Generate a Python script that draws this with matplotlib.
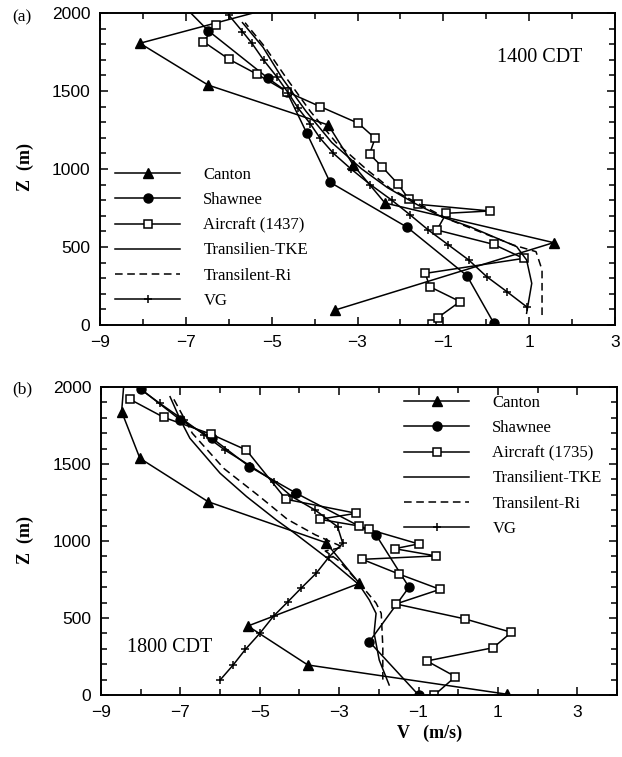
import matplotlib
matplotlib.use('Agg')
import matplotlib.pyplot as plt
from matplotlib.ticker import MultipleLocator

# ---------------- data: panel (a) 1400 CDT ----------------
canton_a_v = [-3.52, 1.57, -2.36, -3.10, -3.68, -6.48, -8.07, -4.75]
canton_a_z = [96, 528, 782, 1026, 1282, 1538, 1806, 2050]

shawnee_a_v = [0.18, -0.45, -1.84, -3.64, -4.18, -4.65, -5.08, -6.48, -7.1]
shawnee_a_z = [10, 316, 626, 915, 1229, 1496, 1581, 1887, 2060]

aircraft_a_v = [-1.27, -1.13, -0.61, -1.32, -1.42, 0.87, 0.17, -1.15, -0.93, 0.09,
                -1.60, -1.81, -2.05, -2.43, -2.72, -2.59, -2.98, -3.87, -4.65,
                -5.35, -5.99, -6.59, -6.30]
aircraft_a_z = [6, 47, 150, 246, 331, 427, 517, 609, 716, 731,
                774, 808, 902, 1015, 1096, 1197, 1293, 1400, 1496,
                1609, 1703, 1816, 1923]

tke_a_v = [0.94, 1.06, 0.94, 0.71, -0.38, -1.04, -1.6, -2.3, -2.9, -3.6, -4.2, -4.75, -5.2, -5.68]
tke_a_z = [75, 267, 417, 502, 630, 694, 770, 880, 1000, 1170, 1370, 1580, 1780, 1938]

ri_a_v = [1.30, 1.30, 1.16, 0.63, -0.84, -1.6, -2.24, -2.8, -3.5, -4.1, -4.65, -5.15, -5.62]
ri_a_z = [64, 353, 470, 513, 673, 780, 876, 1000, 1170, 1370, 1580, 1780, 1938]

vg_a_v = [0.94, 0.48, 0.01, -0.41, -0.88, -1.35, -1.77, -2.2, -2.7, -3.15, -3.56, -3.87,
          -4.1, -4.38, -4.62, -4.88, -5.19, -5.46, -5.68, -6.0]
vg_a_z = [117, 214, 310, 417, 513, 609, 705, 800, 900, 1000, 1100, 1197,
          1290, 1389, 1490, 1591, 1699, 1806, 1881, 1987]

# ---------------- data: panel (b) 1800 CDT ----------------
canton_b_v = [1.23, -3.79, -5.30, -2.49, -3.33, -6.30, -8.02, -8.48, -8.40]
canton_b_z = [5, 195, 448, 725, 989, 1255, 1537, 1840, 2100]

shawnee_b_v = [-1.00, -2.24, -1.24, -2.07, -4.08, -5.26, -6.20, -7.00, -8.00]
shawnee_b_z = [0, 346, 700, 1039, 1310, 1483, 1667, 1786, 1987]

aircraft_b_v = [-0.60, -0.07, -0.79, 0.88, 1.34, 0.17, -1.57, -0.46, -1.50, -2.42,
                -0.56, -1.60, -1.00, -2.26, -2.49, -3.49, -2.57, -4.34, -5.34,
                -6.24, -7.42, -8.27]
aircraft_b_z = [0, 119, 221, 307, 407, 494, 591, 686, 786, 881,
                903, 950, 981, 1076, 1097, 1141, 1180, 1271, 1591,
                1695, 1803, 1920]

tke_b_v = [-1.74, -1.99, -2.12, -2.07, -2.24, -2.49, -3.24, -4.17, -4.58, -5.33, -6.0, -6.76, -7.0, -7.26]
tke_b_z = [65, 227, 402, 530, 617, 714, 877, 1060, 1136, 1288, 1440, 1667, 1786, 1937]

ri_b_v = [-1.9, -1.9, -1.94, -2.07, -2.45, -3.0, -3.35, -2.9, -3.6, -4.3, -5.0, -5.9, -6.7, -7.2]
ri_b_z = [100, 314, 530, 597, 714, 870, 935, 960, 1040, 1140, 1288, 1470, 1700, 1937]

vg_b_v = [-6.0, -5.67, -5.36, -5.0, -4.65, -4.29, -3.96, -3.58, -3.25, -2.91, -3.04,
          -3.6, -4.2, -4.63, -5.25, -5.88, -6.4, -6.92, -7.52, -8.0]
vg_b_z = [97, 195, 297, 400, 513, 606, 693, 790, 898, 985, 1093,
          1200, 1290, 1385, 1490, 1591, 1690, 1786, 1894, 1985]

labels_a = ['Canton', 'Shawnee', 'Aircraft (1437)', 'Transilien-TKE', 'Transilent-Ri', 'VG']
labels_b = ['Canton', 'Shawnee', 'Aircraft (1735)', 'Transilient-TKE', 'Transilent-Ri', 'VG']

# ---------------- figure ----------------
W, H = 622, 757
fig = plt.figure(figsize=(W / 100, H / 100), dpi=100)

def rect(l, r, t, b):
    return [l / W, 1 - b / H, (r - l) / W, (b - t) / H]

SERIF = ['Liberation Serif', 'DejaVu Serif']
SANS = ['Liberation Sans', 'DejaVu Sans']
LW = 1.1

def draw(ax, d, xmax):
    cv, cz, sv, sz, av, az, tv, tz, rv, rz, vv, vz = d
    h = []
    h += ax.plot(cv, cz, '-', color='k', lw=LW, marker='^', ms=7, mfc='k', mec='k')
    h += ax.plot(sv, sz, '-', color='k', lw=LW, marker='o', ms=6.5, mfc='k', mec='k')
    h += ax.plot(av, az, '-', color='k', lw=LW, marker='s', ms=6, mfc='white', mec='k', mew=1.1)
    h += ax.plot(tv, tz, '-', color='k', lw=LW)
    h += ax.plot(rv, rz, '--', color='k', lw=LW, dashes=(5, 3))
    h += ax.plot(vv, vz, '-', color='k', lw=LW, marker='+', ms=6, mew=1.1)
    ax.set_xlim(-9, xmax)
    ax.set_ylim(0, 2000)
    ax.set_xticks([-9, -7, -5, -3, -1, 1, 3])
    ax.xaxis.set_minor_locator(MultipleLocator(1))
    ax.yaxis.set_major_locator(MultipleLocator(500))
    ax.yaxis.set_minor_locator(MultipleLocator(100))
    ax.tick_params(which='both', direction='in', top=True, right=True, width=1.1)
    ax.tick_params(which='major', length=6, labelsize=12.5, pad=7)
    ax.tick_params(which='minor', length=4)
    for lab in ax.get_xticklabels() + ax.get_yticklabels():
        lab.set_family(SANS)
    for s in ax.spines.values():
        s.set_linewidth(1.4)
    return h

ax1 = fig.add_axes(rect(100, 615, 13, 325))
h1 = draw(ax1, (canton_a_v, canton_a_z, shawnee_a_v, shawnee_a_z, aircraft_a_v, aircraft_a_z,
                tke_a_v, tke_a_z, ri_a_v, ri_a_z, vg_a_v, vg_a_z), 3)
ax2 = fig.add_axes(rect(101, 617, 387, 695))
h2 = draw(ax2, (canton_b_v, canton_b_z, shawnee_b_v, shawnee_b_z, aircraft_b_v, aircraft_b_z,
                tke_b_v, tke_b_z, ri_b_v, ri_b_z, vg_b_v, vg_b_z), 4)

leg_kw = dict(frameon=False, handlelength=3.9, handletextpad=1.4, labelspacing=0.55,
              borderpad=0, borderaxespad=0, prop={'family': SERIF, 'size': 12})
ax1.legend(h1, labels_a, loc='upper left',
           bbox_to_anchor=((115 - 100) / 515, 1 - (167 - 13) / 312), **leg_kw)
ax2.legend(h2, labels_b, loc='upper left',
           bbox_to_anchor=((404 - 101) / 516, 1 - (395 - 387) / 308), **leg_kw)

ax1.text((582 - 100) / 515, 1 - (57 - 13) / 312, '1400 CDT', transform=ax1.transAxes,
         ha='right', va='center', family=SERIF, fontsize=14.5)
ax2.text(0.05, 0.155, '1800 CDT', transform=ax2.transAxes, ha='left', va='center',
         family=SERIF, fontsize=14.5)

fig.text(12 / W, 1 - 17 / H, '(a)', family=SERIF, fontsize=12.5, ha='left', va='center')
fig.text(12 / W, 1 - 389 / H, '(b)', family=SERIF, fontsize=12.5, ha='left', va='center')
fig.text(25 / W, 1 - 167 / H, 'Z  (m)', family=SERIF, fontsize=13, fontweight='bold',
         rotation=90, ha='center', va='center')
fig.text(25 / W, 1 - 540 / H, 'Z  (m)', family=SERIF, fontsize=13, fontweight='bold',
         rotation=90, ha='center', va='center')
fig.text(462 / W, 1 - 733 / H, 'V   (m/s)', family=SERIF, fontsize=13, fontweight='bold',
         ha='right', va='center')

fig.savefig('out.png', dpi=100)
